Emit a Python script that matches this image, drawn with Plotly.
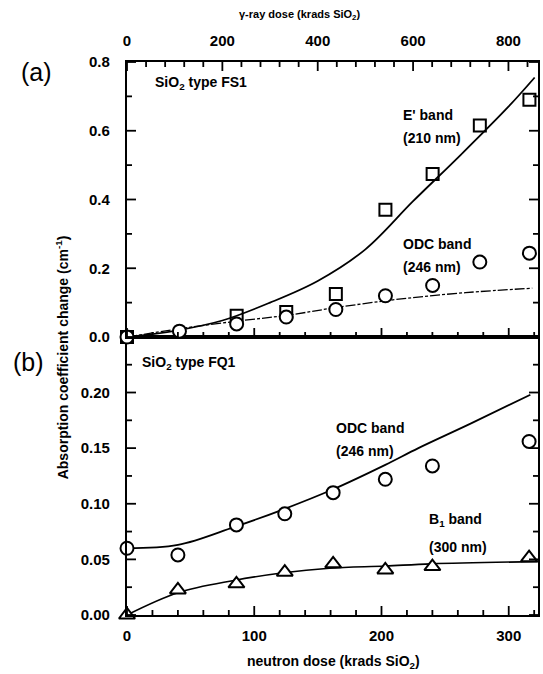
import plotly.graph_objects as go

# ---------------- data ----------------
# Panel (a): SiO2 type FS1, gamma-ray dose (krads SiO2)
fs1_dose = [0, 110, 230, 334, 438, 542, 641, 740, 844]
fs1_eprime = [0.0, None, 0.062, 0.073, 0.125, 0.370, 0.474, 0.615, 0.690]
fs1_odc = [0.0, 0.017, 0.038, 0.058, 0.080, 0.120, 0.150, 0.218, 0.244]

eprime_fit_dose = [0, 100, 200, 300, 400, 500, 600, 700, 800, 855]
eprime_fit = [0.0, 0.018, 0.048, 0.100, 0.163, 0.255, 0.395, 0.530, 0.670, 0.755]
odc_a_fit_dose = [0, 110, 230, 340, 440, 570, 710, 850]
odc_a_fit = [0.0, 0.024, 0.046, 0.064, 0.086, 0.110, 0.129, 0.142]

# Panel (b): SiO2 type FQ1, neutron dose (krads SiO2)
fq1_dose = [0, 40, 86, 124, 162, 203, 240, 316]
fq1_odc = [0.060, 0.054, 0.081, 0.091, 0.110, 0.122, 0.134, 0.156]
fq1_b1 = [0.0, 0.0225, 0.028, 0.0385, 0.046, 0.0405, 0.0435, 0.0515]

odc_b_fit_dose = [0, 40, 84, 123, 162, 203, 229, 270, 317]
odc_b_fit = [0.060, 0.063, 0.079, 0.095, 0.113, 0.135, 0.150, 0.172, 0.198]
b1_fit_dose = [0, 40, 84, 123, 159, 203, 239, 323]
b1_fit = [0.0, 0.020, 0.031, 0.038, 0.042, 0.044, 0.046, 0.048]

# axis ranges and tick steps (major, minor)
neutron_range, neutron_step = [0, 323], (100, 20)
gamma_range, gamma_step = [0, 862], (200, 40)
a_range, a_step = [0, 0.8], (0.2, 0.1)
b_range, b_step = [0, 0.2499], (0.05, 0.025)

# ---------------- layout geometry ----------------
W, H = 543, 674
ML, MR, MT, MB = 127, 3, 62, 59
SPLIT = (H - MB - 337) / (H - MT - MB)
MAJOR_LEN, MINOR_LEN = 9, 5

FONT = "Liberation Sans, Arial, sans-serif"


def paper(x, y):
    return (x - ML) / (W - ML - MR), (H - MB - y) / (H - MT - MB)


fig = go.Figure()

marker_line = dict(color="black", width=2)

# (a) fits
fig.add_trace(go.Scatter(x=eprime_fit_dose, y=eprime_fit, mode="lines",
                         line=dict(color="black", width=1.8, shape="spline"),
                         xaxis="x2", yaxis="y2", hoverinfo="skip"))
fig.add_trace(go.Scatter(x=odc_a_fit_dose, y=odc_a_fit, mode="lines",
                         line=dict(color="black", width=1.3, shape="spline",
                                   dash="10px,2px,3px,2px"),
                         xaxis="x2", yaxis="y2", hoverinfo="skip"))
# (a) data
fig.add_trace(go.Scatter(x=fs1_dose, y=fs1_eprime, mode="markers",
                         marker=dict(symbol="square-open", size=12, color="black",
                                     line=marker_line),
                         xaxis="x2", yaxis="y2", cliponaxis=False))
fig.add_trace(go.Scatter(x=fs1_dose, y=fs1_odc, mode="markers",
                         marker=dict(symbol="circle", size=13, color="white",
                                     line=marker_line),
                         xaxis="x2", yaxis="y2", cliponaxis=False))

# (b) fits
fig.add_trace(go.Scatter(x=odc_b_fit_dose, y=odc_b_fit, mode="lines",
                         line=dict(color="black", width=1.8, shape="spline"),
                         xaxis="x", yaxis="y", hoverinfo="skip"))
fig.add_trace(go.Scatter(x=b1_fit_dose, y=b1_fit, mode="lines",
                         line=dict(color="black", width=1.6, shape="spline"),
                         xaxis="x", yaxis="y", hoverinfo="skip"))
# (b) data
fig.add_trace(go.Scatter(x=fq1_dose, y=fq1_odc, mode="markers",
                         marker=dict(symbol="circle", size=13, color="white",
                                     line=marker_line),
                         xaxis="x", yaxis="y", cliponaxis=False))
fig.add_trace(go.Scatter(x=fq1_dose, y=fq1_b1, mode="markers",
                         marker=dict(symbol="triangle-up", size=14, color="white",
                                     line=marker_line),
                         xaxis="x", yaxis="y", cliponaxis=False))

tickfont = dict(family=FONT, size=15, color="black", weight="bold")
common = dict(showline=True, linecolor="black", linewidth=2.2, ticks="",
              showgrid=False, zeroline=False, tickfont=tickfont,
              tickmode="linear", tick0=0)

fig.update_layout(
    width=W, height=H,
    margin=dict(l=ML, r=MR, t=MT, b=MB),
    paper_bgcolor="white", plot_bgcolor="white",
    showlegend=False,
    font=dict(family=FONT, color="black"),
    xaxis=dict(domain=[0, 1], anchor="y", range=neutron_range, mirror=True,
               dtick=neutron_step[0], ticklabelstandoff=6, **common),
    xaxis2=dict(domain=[0, 1], anchor="y2", side="top", range=gamma_range,
                mirror=True, dtick=gamma_step[0], ticklabelstandoff=8, **common),
    yaxis=dict(domain=[0, SPLIT], anchor="x", range=b_range, tickformat=".2f",
               mirror=True, ticklabelstandoff=12, dtick=b_step[0], **common),
    yaxis2=dict(domain=[SPLIT, 1], anchor="x2", range=a_range, tickformat=".1f",
                mirror=True, ticklabelstandoff=12, dtick=a_step[0], **common),
)


# ---------------- inward tick marks ----------------
def tick_positions(rng, step):
    major, minor = step
    n = int((rng[1] - rng[0]) / minor + 1e-6)
    out = []
    for i in range(n + 1):
        v = rng[0] + i * minor
        is_major = abs(v / major - round(v / major)) < 1e-6
        out.append((v, MAJOR_LEN if is_major else MINOR_LEN))
    return out


shapes = []
tick_line = dict(color="black", width=1.8)


def x_ticks(xref, yref, rng, step, anchor, direction):
    # direction +1: ticks point up from the anchor line, -1: down
    for v, ln in tick_positions(rng, step):
        shapes.append(dict(type="line", xref=xref, yref=yref, x0=v, x1=v,
                           ysizemode="pixel", yanchor=anchor, y0=0,
                           y1=direction * ln, line=tick_line, layer="above"))


def y_ticks(xref, yref, rng, step, anchor, direction):
    # direction +1: ticks point right from the anchor line, -1: left
    for v, ln in tick_positions(rng, step):
        shapes.append(dict(type="line", xref=xref, yref=yref, y0=v, y1=v,
                           xsizemode="pixel", xanchor=anchor, x0=0,
                           x1=direction * ln, line=tick_line, layer="above"))


# bottom of panel (b) and the shared line under panel (a): neutron dose
x_ticks("x", "y", neutron_range, neutron_step, b_range[0], +1)
x_ticks("x", "y2", neutron_range, neutron_step, a_range[0], +1)
# top of panel (a): gamma-ray dose
x_ticks("x2", "y2", gamma_range, gamma_step, a_range[1], -1)
# left and right edges of both panels
y_ticks("x", "y", b_range, b_step, neutron_range[0], +1)
y_ticks("x", "y", b_range, b_step, neutron_range[1], -1)
y_ticks("x2", "y2", a_range, a_step, gamma_range[0], +1)
y_ticks("x2", "y2", a_range, a_step, gamma_range[1], -1)

fig.update_layout(shapes=shapes)

annotations = []


def label(text, x, y, size=15, xanchor="left", angle=0, weight="bold"):
    px, py = paper(x, y)
    annotations.append(dict(text=text, x=px, y=py, xref="paper", yref="paper",
                            xanchor=xanchor, yanchor="middle", showarrow=False,
                            textangle=angle,
                            font=dict(family=FONT, size=size, color="black",
                                      weight=weight)))


label("(a)", 36, 72, size=25, xanchor="center", weight="normal")
label("(b)", 28, 362, size=25, xanchor="center", weight="normal")
label("SiO<sub>2</sub> type FS1", 153, 83, size=14)
label("SiO<sub>2</sub> type FQ1", 140, 363, size=14)
label("E' band", 402, 115, size=14)
label("(210 nm)", 402, 138, size=14)
label("ODC band", 402, 244, size=14)
label("(246 nm)", 402, 267, size=14)
label("ODC band", 335, 428, size=14)
label("(246 nm)", 335, 451, size=14)
label("B<sub>1</sub> band", 428, 520, size=14)
label("(300 nm)", 428, 547, size=14)
label("γ-ray dose (krads SiO<sub>2</sub>)", 300, 15, size=11, xanchor="center")
label("neutron dose (krads SiO<sub>2</sub>)", 335, 662, size=14, xanchor="center")
label("Absorption coefficient change (cm<sup>-1</sup>)", 62, 357, size=14,
      xanchor="center", angle=-90)

fig.update_layout(annotations=annotations)

fig.write_html("out.html")
